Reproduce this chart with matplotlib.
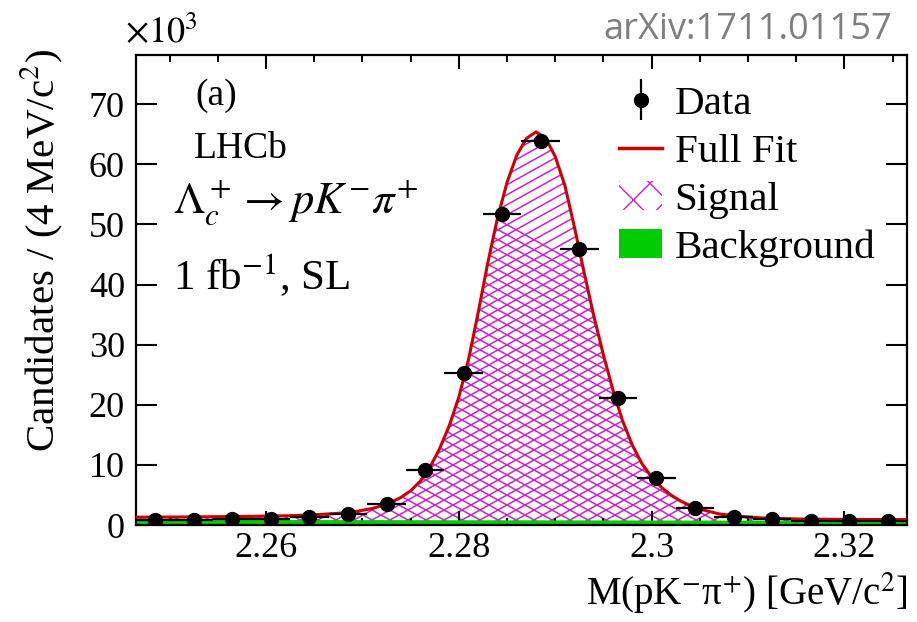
import numpy as np
import matplotlib
matplotlib.use("Agg")
import matplotlib.pyplot as plt
from matplotlib.collections import LineCollection
from matplotlib.lines import Line2D
from matplotlib.patches import Patch
from matplotlib.ticker import MultipleLocator, FuncFormatter

plt.rcParams['font.family'] = ['Liberation Serif', 'DejaVu Serif']
plt.rcParams['mathtext.fontset'] = 'stix'

# binned data, M(pK-pi+) in GeV, counts in units of 10^3 per 4 MeV
mass = [2.2485, 2.2525, 2.2565, 2.2605, 2.2645, 2.2685, 2.2725, 2.2765, 2.2805, 2.2845,
        2.2885, 2.2925, 2.2965, 2.3005, 2.3045, 2.3085, 2.3125, 2.3165, 2.3205, 2.3245]
counts = [0.83, 0.9, 0.95, 1.05, 1.4, 1.9, 3.5, 9.2, 25.3, 51.8,
          63.9, 45.9, 21.2, 7.8, 2.8, 1.3, 0.95, 0.75, 0.7, 0.6]
bin_half = 0.002

# full fit curve
fit_m = [2.2465, 2.2525, 2.2585, 2.2625, 2.2655, 2.2675, 2.2695, 2.2710, 2.2720, 2.2730,
         2.2740, 2.2750, 2.2760, 2.2770, 2.2780, 2.2790, 2.2800, 2.2810, 2.2820, 2.2830,
         2.2840, 2.2850, 2.2860, 2.2870, 2.2880, 2.2890, 2.2900, 2.2910, 2.2920, 2.2930,
         2.2940, 2.2950, 2.2960, 2.2970, 2.2980, 2.2990, 2.3000, 2.3010, 2.3020, 2.3030,
         2.3040, 2.3050, 2.3070, 2.3090, 2.3120, 2.3160, 2.3210, 2.3265]
fit_y = [1.3, 1.35, 1.45, 1.55, 1.75, 1.95, 2.3, 2.75, 3.2, 3.8,
         4.6, 5.7, 7.3, 9.6, 12.7, 16.5, 21.3, 27.5, 35.3, 43.6,
         51.0, 57.0, 61.5, 64.3, 65.4, 64.4, 61.3, 56.5, 49.5, 42.0,
         34.8, 28.3, 22.4, 17.3, 13.3, 10.2, 8.0, 6.3, 5.0, 4.0,
         3.25, 2.65, 1.85, 1.45, 1.12, 0.98, 0.93, 0.9]

bkg_m = [2.2465, 2.3265]
bkg_y = [0.95, 0.78]

fig = plt.figure(figsize=(9.17, 6.22), dpi=100)
ax = fig.add_axes([0.1483, 0.1559, 0.8408, 0.7557])

# signal: cross-hatch under the full fit
sig = ax.fill_between(fit_m, 0, fit_y, facecolor='none', edgecolor='none', zorder=1)
segs = []
for x0 in np.arange(-1.2, 1.2, 0.02335):
    segs.append([(x0, 0), (x0 + 1.2, 1.2 * 0.912)])
    segs.append([(x0, 0), (x0 - 1.2, 1.2 * 0.912)])
hatch = LineCollection(segs, colors='#cc22cc', linewidths=1.1, transform=ax.transAxes, zorder=1)
hatch.set_clip_path(sig.get_paths()[0], ax.transData)
ax.add_collection(hatch)

ax.fill_between(bkg_m, 0, bkg_y, color='#00cc00', lw=0, zorder=2)
ax.plot(fit_m, fit_y, color='#cc0000', lw=2.2, zorder=3)
ax.errorbar(mass, counts, xerr=bin_half, yerr=np.sqrt(np.array(counts) * 1000) / 1000,
            fmt='o', color='black', ms=10, elinewidth=1.6, capsize=0, zorder=4)

ax.set_xlim(2.2465, 2.3265)
ax.set_ylim(0, 78.2)
ax.xaxis.set_major_locator(MultipleLocator(0.02))
ax.xaxis.set_minor_locator(MultipleLocator(0.005))
ax.yaxis.set_major_locator(MultipleLocator(10))
ax.xaxis.set_major_formatter(FuncFormatter(lambda v, p: '%g' % round(v, 3)))
ax.yaxis.set_major_formatter(FuncFormatter(lambda v, p: '%d' % round(v)))
ax.tick_params(which='both', direction='in', top=True, right=True, width=1.5, labelsize=26)
ax.tick_params(axis='x', which='major', length=10, pad=5)
ax.tick_params(axis='x', which='minor', length=5)
ax.tick_params(axis='y', which='major', length=15, pad=8)
for s in ax.spines.values():
    s.set_linewidth(1.6)

ax.set_ylabel('Candidates / (4 MeV/c$^{2}$)', fontsize=29.5)
ax.yaxis.set_label_coords(-0.092, 0.585)
ax.set_xlabel('M(pK$^{-}$π$^{+}$) [GeV/c$^{2}$]', fontsize=28, ha='right')
ax.xaxis.set_label_coords(1.0, -0.097)

ax.text(-0.014, 1.0255, r'$\times10^{3}$', transform=ax.transAxes, fontsize=26, va='baseline')
ax.text(0.0765, 0.8936, '(a)', transform=ax.transAxes, fontsize=27, va='baseline')
ax.text(0.0752, 0.781, 'LHCb', transform=ax.transAxes, fontsize=27, va='baseline')
ax.text(0.048, 0.664, r'$\Lambda_c^+ \rightarrow pK^{-}\pi^{+}$', transform=ax.transAxes,
        fontsize=32, va='baseline')
ax.text(0.048, 0.50, '1 fb$^{-1}$, SL', transform=ax.transAxes, fontsize=31, va='baseline')

# legend
h_data = ax.errorbar([np.nan], [np.nan], yerr=[1], fmt='o', color='black', ms=10,
                     elinewidth=1.6, capsize=0)
h_fit = Line2D([], [], color='#cc0000', lw=2.5)
h_sig = Patch(facecolor='none', edgecolor='#cc22cc', hatch='x', lw=0)
h_bkg = Patch(facecolor='#00cc00', edgecolor='none')
ax.legend([h_data, h_fit, h_sig, h_bkg], ['Data', 'Full Fit', 'Signal', 'Background'],
          loc='upper left', bbox_to_anchor=(0.627, 0.935), frameon=False, fontsize=29.5,
          handlelength=1.05, handleheight=0.7, handletextpad=0.3, labelspacing=0.25,
          borderpad=0, borderaxespad=0)

fig.text(892 / 917, 1 - 39 / 622, 'arXiv:1711.01157', ha='right', va='baseline',
         color='#7f7f7f', fontsize=26, family='Open Sans')

# make sure tick labels use the serif face
fig.canvas.draw()
for lbl in ax.get_xticklabels() + ax.get_yticklabels():
    lbl.set_fontfamily('Liberation Serif')

fig.savefig('out.png', dpi=100)
